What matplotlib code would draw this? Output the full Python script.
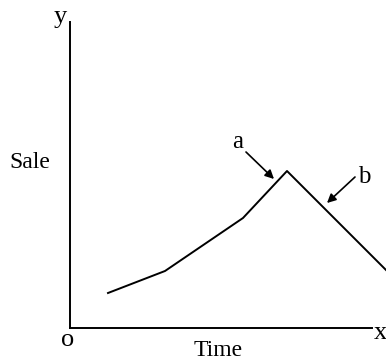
import matplotlib.pyplot as plt

# sale curve (time, sale in axis units)
time = [38, 95, 173, 217, 316]
sale = [35, 57, 110, 157, 58]

plt.rcParams['font.family'] = ['Liberation Serif', 'DejaVu Serif']

fig = plt.figure(figsize=(3.86, 3.62), dpi=100)
ax = fig.add_axes([70 / 386, 34 / 362, 302 / 386, 306 / 362])
ax.set_xlim(0, 302)
ax.set_ylim(0, 306)

ax.plot(time, sale, color='black', lw=1.4, clip_on=False)

for s in ['top', 'right']:
    ax.spines[s].set_visible(False)
for s in ['left', 'bottom']:
    ax.spines[s].set_linewidth(1.4)
ax.set_xticks([])
ax.set_yticks([])

# arrows pointing at the peak (a) and the falling side (b)
arrow = dict(arrowstyle='-|>', color='black', lw=1.2,
             shrinkA=0, shrinkB=0, mutation_scale=13)
ax.annotate('', xy=(204, 149), xytext=(176, 176), arrowprops=arrow)
ax.annotate('', xy=(257, 125), xytext=(285, 151), arrowprops=arrow)
ax.text(168, 186, 'a', fontsize=18, ha='center', va='center')
ax.text(294, 151, 'b', fontsize=18, ha='center', va='center')

ax.text(-10, 311, 'y', fontsize=19, ha='center', va='center')
ax.text(-2, -12, 'o', fontsize=19, ha='center', va='center')
ax.text(310, -5, 'x', fontsize=19, ha='center', va='center')
ax.text(148, -22, 'Time', fontsize=17, ha='center', va='center')
ax.text(-40, 165, 'Sale', fontsize=17, ha='center', va='center')

fig.savefig('out.png', dpi=100)
